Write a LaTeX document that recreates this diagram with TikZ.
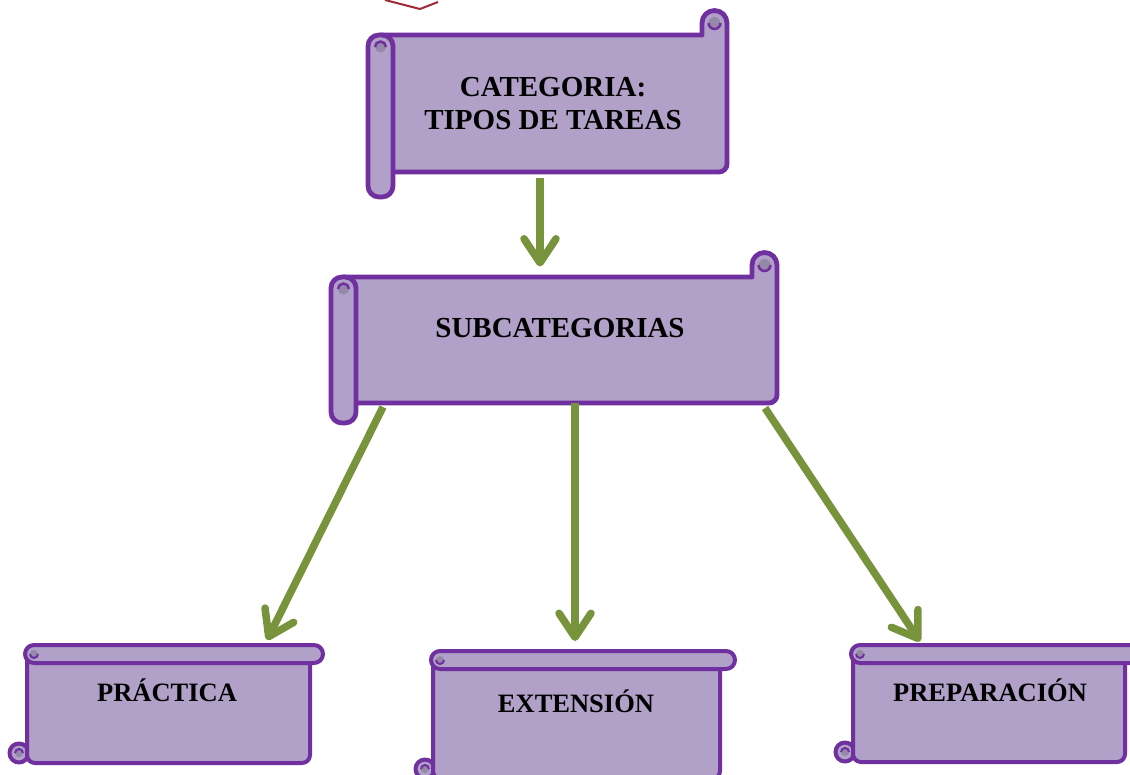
\documentclass[tikz,border=0pt]{standalone}
\usepackage{fontspec}
\setmainfont{Liberation Serif}
\usetikzlibrary{arrows.meta}
\definecolor{scrollline}{RGB}{112,48,160}
\definecolor{scrollfill}{RGB}{177,160,199}
\definecolor{curlgray}{RGB}{150,136,168}
\definecolor{arrowgreen}{RGB}{119,147,60}
\definecolor{redmark}{RGB}{160,40,55}
\tikzset{
  scrollbox/.style={draw=scrollline,fill=scrollfill,line width=4.8pt,line join=round},
  curlspot/.style={fill=curlgray},
  curlline/.style={draw=scrollline,line width=2.5pt},
  lab/.style={font=\bfseries\fontsize{26.5}{30}\selectfont,inner sep=0pt,text height=17.5pt,text depth=0pt},
  biglab/.style={font=\bfseries\fontsize{29}{33}\selectfont,inner sep=0pt,align=center},
  arrowline/.style={draw=arrowgreen,line width=7.5pt,
    -{Straight Barb[length=24pt,width=32pt,line cap=round,line join=round]}}
}
% horizontal scroll: tube x, top, right, bottom, tube bottom
\newcommand\hscroll[5]{%
  \filldraw[scrollbox] (#1,#2) -- (#3-25,#2) -- (#3-25,#2-12)
    arc[start angle=180,end angle=360,radius=12.5]
    [rounded corners=8] -- (#3,#4) -- (#1,#4) [sharp corners] -- cycle;
  \fill[curlspot] (#3-12.5,#2-12) circle (6);
  \draw[curlline] (#3-18.5,#2-12) arc[start angle=180,end angle=0,radius=6];
  \filldraw[scrollbox,rounded corners=11] (#1-12.5,#2) rectangle (#1+12.5,#5);
  \fill[curlspot] (#1,#2+12) circle (5.5);
  \draw[curlline] (#1+5.5,#2+12) arc[start angle=0,end angle=-180,radius=5.5];
}
% vertical scroll: left, top, right, bottom, roll right
\newcommand\vscroll[5]{%
  \filldraw[scrollbox,line width=4pt] (#1-8,#4-10) circle (9.5);
  \filldraw[scrollbox,line width=4pt,rounded corners=8] (#1,#2+9) rectangle (#3,#4);
  \filldraw[scrollbox,line width=4pt,rounded corners=9] (#1-2,#2) rectangle (#5,#2+18);
  \fill[curlspot] (#1+7,#2+9) circle (4);
  \draw[curlline,line width=2pt] (#1+3,#2+9) arc[start angle=180,end angle=0,radius=4];
  \fill[curlspot] (#1-8,#4-10) circle (4);
  \draw[curlline,line width=2pt] (#1-4,#4-10) arc[start angle=0,end angle=-180,radius=4];
}
\begin{document}
\begin{tikzpicture}[x=1pt,y=-1pt]
  \useasboundingbox (0,0) rectangle (1130,774);
  \draw[redmark,line width=2pt] (385,0) -- (420,9) -- (438,2);
  \hscroll{380.5}{35}{727}{172}{197}
  \hscroll{343.5}{277}{777}{403}{423}
  \vscroll{27}{645}{310}{763}{323}
  \vscroll{433}{651}{720}{779}{735}
  \vscroll{853}{645}{1125}{762}{1140}
  \node[biglab] (cat) at (553,103.5) {CATEGORIA:\\TIPOS DE TAREAS};
  \node[biglab] (sub) at (560,328.5) {SUBCATEGORIAS};
  \node[lab] (prac) at (167,693) {PRÁCTICA};
  \node[lab] (ext) at (576,704) {EXTENSIÓN};
  \node[lab] (prep) at (990,693) {PREPARACIÓN};
  \draw[arrowline] ([shift={(-13,74.5)}]cat.center) -- ([shift={(-20,-62)}]sub.center);
  \draw[arrowline] ([shift={(-177,78.5)}]sub.center) -- ([shift={(100,-53)}]prac.center);
  \draw[arrowline] ([shift={(15,74.5)}]sub.center) -- ([shift={(-1,-63)}]ext.center);
  \draw[arrowline] ([shift={(205,79.5)}]sub.center) -- ([shift={(-70,-51.5)}]prep.center);
\end{tikzpicture}
\end{document}
